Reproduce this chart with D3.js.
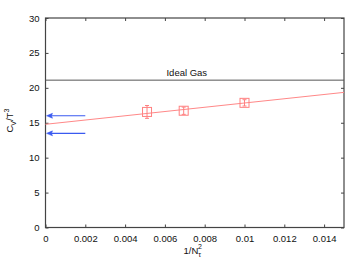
<!DOCTYPE html>
<html>
<head>
<meta charset="utf-8">
<script src="https://cdn.jsdelivr.net/npm/d3@7"></script>
<style>
  body { margin: 0; background: #fff; }
  text { font-family: "Liberation Sans", Arial, sans-serif; }
</style>
</head>
<body>
<div id="chart"></div>
<script>
// data
const xTicks = [0, 0.002, 0.004, 0.006, 0.008, 0.01, 0.012, 0.014];
const xTickLabels = ["0", "0.002", "0.004", "0.006", "0.008", "0.01", "0.012", "0.014"];
const yTicks = [0, 5, 10, 15, 20, 25, 30];
const pointX = [1 / 196, 1 / 144, 1 / 100];
const pointY = [16.55, 16.72, 17.85];
const pointErr = [0.92, 0.52, 0.45];
const fitX = [0, 0.015];
const fitY = [14.78, 19.35];
const idealGas = 21.1;
const arrowY = [16.0, 13.48];
const arrowStartX = 0.002;

const W = 354, H = 265;
const margin = {top: 18, right: 10, bottom: 37.5, left: 45.5};
const width = W - margin.left - margin.right;
const height = H - margin.top - margin.bottom;

const svg = d3.select("#chart").append("svg")
    .attr("width", W).attr("height", H);
const g = svg.append("g").attr("transform", `translate(${margin.left},${margin.top})`);

const x = d3.scaleLinear().domain([0, 0.015]).range([0, width]);
const y = d3.scaleLinear().domain([0, 30]).range([height, 0]);

const axisColor = "#444";
const fs = "9.5px";

// ticks, inward on all four sides
const tickLen = 3;
g.append("g").attr("transform", `translate(0,${height})`)
    .call(d3.axisBottom(x).tickValues(xTicks).tickSizeInner(-tickLen).tickSizeOuter(0)
        .tickPadding(8).tickFormat((d, i) => xTickLabels[i]));
g.append("g")
    .call(d3.axisTop(x).tickValues(xTicks).tickSizeInner(-tickLen).tickSizeOuter(0).tickFormat(""));
g.append("g")
    .call(d3.axisLeft(y).tickValues(yTicks).tickSizeInner(-tickLen).tickSizeOuter(0).tickPadding(6));
g.append("g").attr("transform", `translate(${width},0)`)
    .call(d3.axisRight(y).tickValues(yTicks).tickSizeInner(-tickLen).tickSizeOuter(0).tickFormat(""));

g.selectAll(".domain").remove();
g.selectAll(".tick line").attr("stroke", axisColor);
g.selectAll(".tick text").attr("fill", "#111").style("font-size", fs);

g.append("rect")
    .attr("width", width).attr("height", height)
    .attr("fill", "none").attr("stroke", axisColor).attr("stroke-width", 1.2);

// ideal gas line
g.append("line")
    .attr("x1", x(0)).attr("x2", x(0.015))
    .attr("y1", y(idealGas)).attr("y2", y(idealGas))
    .attr("stroke", "#555").attr("stroke-width", 1);
g.append("text")
    .attr("x", x(0.0071)).attr("y", y(idealGas) - 4)
    .attr("text-anchor", "middle").style("font-size", fs).attr("fill", "#111")
    .text("Ideal Gas");

// fit line
g.append("line")
    .attr("x1", x(fitX[0])).attr("x2", x(fitX[1]))
    .attr("y1", y(fitY[0])).attr("y2", y(fitY[1]))
    .attr("stroke", "#ff8888").attr("stroke-width", 1);

// arrows
const blue = "#3a5af0";
arrowY.forEach(v => {
    const yy = y(v), x0 = x(0) + 1;
    g.append("line")
        .attr("x1", x(arrowStartX)).attr("x2", x0 + 3)
        .attr("y1", yy).attr("y2", yy)
        .attr("stroke", blue).attr("stroke-width", 1.2);
    g.append("path")
        .attr("d", `M${x0},${yy} L${x0 + 6},${yy - 2.5} L${x0 + 5},${yy} L${x0 + 6},${yy + 2.5} Z`)
        .attr("fill", blue).attr("stroke", blue).attr("stroke-width", 0.5);
});

// data points with error bars
const pts = pointX.map((d, i) => ({x: d, y: pointY[i], e: pointErr[i]}));
const pc = "#ff8080";
const pg = g.selectAll(".pt").data(pts).enter().append("g").attr("class", "pt");
pg.append("rect")
    .attr("x", d => x(d.x) - 4.5).attr("y", d => y(d.y) - 4.5)
    .attr("width", 9).attr("height", 9)
    .attr("fill", "none").attr("stroke", pc).attr("stroke-width", 1);
pg.append("line")
    .attr("x1", d => x(d.x)).attr("x2", d => x(d.x))
    .attr("y1", d => y(d.y + d.e)).attr("y2", d => y(d.y - d.e))
    .attr("stroke", pc).attr("stroke-width", 1);
pg.append("line")
    .attr("x1", d => x(d.x) - 2).attr("x2", d => x(d.x) + 2)
    .attr("y1", d => y(d.y + d.e)).attr("y2", d => y(d.y + d.e))
    .attr("stroke", pc).attr("stroke-width", 1);
pg.append("line")
    .attr("x1", d => x(d.x) - 2).attr("x2", d => x(d.x) + 2)
    .attr("y1", d => y(d.y - d.e)).attr("y2", d => y(d.y - d.e))
    .attr("stroke", pc).attr("stroke-width", 1);

// axis labels
const xl = svg.append("text")
    .attr("x", margin.left + x(0.0074)).attr("y", 254)
    .attr("text-anchor", "middle").style("font-size", fs).attr("fill", "#111");
xl.append("tspan").text("1/N");
xl.append("tspan").attr("dy", 3).style("font-size", "7px").text("τ");
xl.append("tspan").attr("dy", -8).attr("dx", -3).style("font-size", "7px").text("2");

const yl = svg.append("text")
    .attr("transform", `translate(13,${margin.top + y(15.3)}) rotate(-90)`)
    .attr("text-anchor", "middle").style("font-size", fs).attr("fill", "#111");
yl.append("tspan").text("C");
yl.append("tspan").attr("dy", 3).style("font-size", "7px").text("V");
yl.append("tspan").attr("dy", -3).text("/T");
yl.append("tspan").attr("dy", -4).style("font-size", "7px").text("3");
</script>
</body>
</html>
